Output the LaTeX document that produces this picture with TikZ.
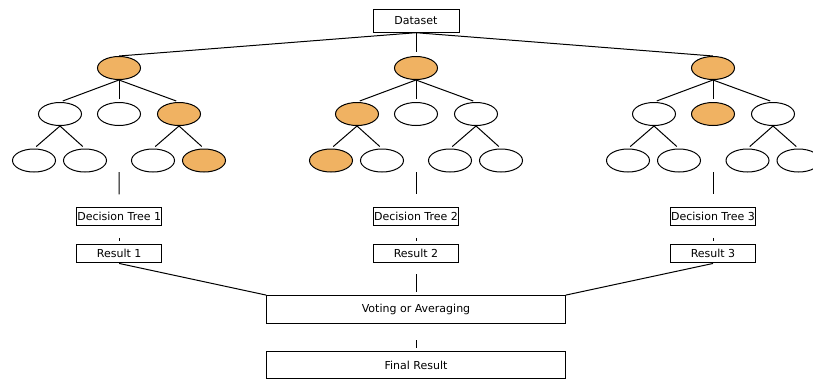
\documentclass[tikz,border=0pt]{standalone}
\usepackage{fontspec}
\setmainfont{DejaVu Sans}
\definecolor{leaf}{RGB}{240,178,98}
\usetikzlibrary{shapes.geometric}
\begin{document}
\begin{tikzpicture}[x=1pt,y=-1pt,
  every node/.style={font=\fontsize{11}{13}\selectfont},
  nd/.style={ellipse,draw=black,line width=1pt,minimum width=43pt,minimum height=23pt,inner sep=0pt},
  hit/.style={nd,fill=leaf},
  box/.style={draw=black,line width=1pt,minimum width=85pt,minimum height=18.5pt,inner sep=0pt},
  wide/.style={draw=black,line width=1pt,minimum width=298.5pt,minimum height=27.8pt,inner sep=0pt},
  conn/.style={line width=1pt},
  edge/.style={conn,shorten >=3pt}]
\useasboundingbox (0,0) rectangle (813,378);
\node[box,minimum height=23pt,minimum width=86pt] (ds) at (416,20.7) {Dataset};
% tree 1
\node[hit] (a0) at (119,68) {};
\node[nd] (a1) at (60,114) {};
\node[nd] (a2) at (119,114) {};
\node[hit] (a3) at (179,114) {};
\node[nd] (a11) at (34,160.5) {};
\node[nd] (a12) at (85,160.5) {};
\node[nd] (a31) at (153,160.5) {};
\node[hit] (a32) at (204,160.5) {};
% tree 2
\node[hit] (b0) at (416,68) {};
\node[hit] (b1) at (357,114) {};
\node[nd] (b2) at (416,114) {};
\node[nd] (b3) at (476,114) {};
\node[hit] (b11) at (331,160.5) {};
\node[nd] (b12) at (382,160.5) {};
\node[nd] (b31) at (450,160.5) {};
\node[nd] (b32) at (501,160.5) {};
% tree 3
\node[hit] (c0) at (713,68) {};
\node[nd] (c1) at (654,114) {};
\node[hit] (c2) at (713,114) {};
\node[nd] (c3) at (773,114) {};
\node[nd] (c11) at (628,160.5) {};
\node[nd] (c12) at (679,160.5) {};
\node[nd] (c31) at (747.5,160.5) {};
\node[nd] (c32) at (798.5,160.5) {};
% lower boxes
\node[box] (dt1) at (119.2,216.7) {Decision Tree 1};
\node[box] (dt2) at (416,216.7) {Decision Tree 2};
\node[box] (dt3) at (713,216.7) {Decision Tree 3};
\node[box] (r1) at (119.2,253.7) {Result 1};
\node[box] (r2) at (416,253.7) {Result 2};
\node[box] (r3) at (713,253.7) {Result 3};
\node[wide] (vote) at (416,309.5) {Voting or Averaging};
\node[wide] (fin) at (416,365) {Final Result};
\coordinate (t1) at (119,172);
\coordinate (t2) at (416,172);
\coordinate (t3) at (713,172);
% connectors
\draw[conn] (ds.south) -- (a0.north);
\draw[conn,shorten >=4pt] (ds.south) -- (b0.north);
\draw[conn] (ds.south) -- (c0.north);
\foreach \t in {a,b,c}{
  \draw[edge] (\t0.south) -- (\t1.north);
  \draw[edge] (\t0.south) -- (\t2.north);
  \draw[edge] (\t0.south) -- (\t3.north);
  \draw[edge] (\t1.south) -- (\t11.north);
  \draw[edge] (\t1.south) -- (\t12.north);
  \draw[edge] (\t3.south) -- (\t31.north);
  \draw[edge] (\t3.south) -- (\t32.north);
}
\foreach \i in {1,2,3}{
  \draw[conn,shorten >=12.5pt] (t\i) -- (dt\i.north);
  \draw[conn,shorten <=11.5pt,shorten >=2.6pt] (dt\i.south) -- (r\i.north);
}
\draw[conn] (r1.south) -- (vote.north west);
\draw[conn,shorten <=11pt,shorten >=3pt] (r2.south) -- (vote.north);
\draw[conn] (r3.south) -- (vote.north east);
\draw[conn,shorten <=16.4pt,shorten >=3pt] (vote.south) -- (fin.north);
\end{tikzpicture}
\end{document}
